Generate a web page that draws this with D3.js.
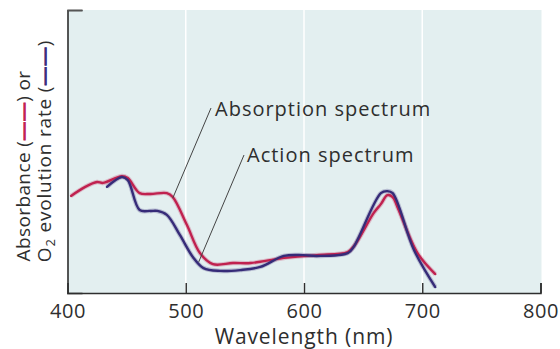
<!DOCTYPE html>
<html><head><meta charset="utf-8">
<script src="https://cdn.jsdelivr.net/npm/d3@7"></script>
<style>
html,body{margin:0;padding:0;background:#fff;}
svg{display:block;font-family:"Open Sans",sans-serif;}
</style></head>
<body>
<svg id="c" width="560" height="349"></svg>
<script>
// Data (wavelength nm, relative value 0-100)
const absorptionWl = [403, 415, 425, 430, 446, 451, 461, 470, 484, 489, 501, 512, 523, 540, 555, 583, 611, 637, 643, 659, 665, 670.5, 675, 679, 696, 711];
const absorptionVal = [34.3, 37.5, 39.2, 38.9, 41.3, 40.6, 35.3, 35.0, 35.3, 33.9, 24.0, 14.1, 10.2, 10.6, 10.6, 12.4, 13.4, 14.5, 17.0, 28.3, 31.4, 34.6, 33.9, 30.4, 14.1, 6.7];
const actionWl = [433.4, 446, 451, 461, 470, 476, 484, 495, 506, 515, 529, 546, 563, 583, 599, 611, 637, 642, 665, 670.5, 675, 693, 711];
const actionVal = [37.5, 41.0, 39.9, 29.3, 29.0, 29.0, 27.6, 20.5, 12.7, 8.8, 7.8, 8.1, 9.2, 13.1, 13.4, 13.1, 14.1, 16.3, 35.3, 36.0, 35.3, 15.2, 2.1];
const xTicks = [400, 500, 600, 700, 800];
const gridWl = [500, 600, 700];
const xTitle = "Wavelength (nm)";
const labelAbs = "Absorption spectrum";
const labelAct = "Action spectrum";

const svg = d3.select("#c");
const L = 67.5, R = 540.5, T = 10, B = 293;
const x = d3.scaleLinear().domain([400, 800]).range([L, R]);
const y = d3.scaleLinear().domain([0, 100]).range([B, T]);

const red = "#c0214f", blue = "#362b78", ink = "#2e2e2e";

svg.append("rect").attr("x", L).attr("y", T).attr("width", R - L + 1).attr("height", B - T).attr("fill", "#e3eff0");

svg.selectAll("line.grid").data(gridWl).enter().append("line")
  .attr("x1", d => x(d)).attr("x2", d => x(d)).attr("y1", T).attr("y2", B)
  .attr("stroke", "#fff").attr("stroke-width", 1.5);

// axes
const xAxis = d3.axisBottom(x).tickValues(xTicks).tickSize(-10).tickPadding(11).tickFormat(d3.format("d"));
const gx = svg.append("g").attr("transform", `translate(0,${B})`).call(xAxis);
gx.select(".domain").attr("stroke", ink).attr("stroke-width", 1.6);
gx.selectAll(".tick line").attr("stroke", ink).attr("stroke-width", 1.4);
gx.selectAll(".tick").filter(d => d === 400).select("line").remove();
gx.selectAll(".tick text").attr("font-size", 20).attr("letter-spacing", 0.6).attr("fill", ink).attr("font-family", "Open Sans");

const yAxis = d3.axisLeft(y).tickValues([100]).tickSize(-15).tickFormat("");
const gy = svg.append("g").attr("transform", `translate(${L},0)`).call(yAxis);
gy.select(".domain").attr("stroke", ink).attr("stroke-width", 1.6);
gy.selectAll(".tick line").attr("stroke", "#555").attr("stroke-width", 1.6);

// curves
const line = d3.line().x(d => x(d[0])).y(d => y(d[1])).curve(d3.curveCatmullRom.alpha(0.5));
const absData = d3.zip(absorptionWl, absorptionVal);
const actData = d3.zip(actionWl, actionVal);
[[absData, red], [actData, blue]].forEach(([d, c]) => {
  svg.append("path").datum(d).attr("d", line).attr("fill", "none")
    .attr("stroke", c).attr("stroke-opacity", 0.25).attr("stroke-width", 4.5).attr("stroke-linejoin", "round");
});
[[absData, red], [actData, blue]].forEach(([d, c]) => {
  svg.append("path").datum(d).attr("d", line).attr("fill", "none")
    .attr("stroke", c).attr("stroke-width", 2.4).attr("stroke-linejoin", "round").attr("stroke-linecap", "round");
});

// annotations
svg.append("line").attr("x1", 211).attr("y1", 108).attr("x2", x(489)).attr("y2", y(33.5)).attr("stroke", "#444").attr("stroke-width", 1);
svg.append("text").attr("x", 215).attr("y", 116).attr("font-size", 20).attr("letter-spacing", 1.0).attr("fill", ink).text(labelAbs);
svg.append("line").attr("x1", 244).attr("y1", 155).attr("x2", x(511)).attr("y2", y(11)).attr("stroke", "#444").attr("stroke-width", 1);
svg.append("text").attr("x", 247).attr("y", 162).attr("font-size", 20).attr("letter-spacing", 1.0).attr("fill", ink).text(labelAct);

// x title
svg.append("text").attr("x", 304).attr("y", 344).attr("text-anchor", "middle")
  .attr("font-size", 21).attr("letter-spacing", 0.9).attr("fill", ink).text(xTitle);

// y title (rotated)
const t1 = svg.append("text").attr("transform", "translate(30,166) rotate(-90)").attr("text-anchor", "middle")
  .attr("font-size", 19).attr("letter-spacing", 0.4).attr("fill", ink);
t1.append("tspan").text("Absorbance (");
t1.append("tspan").attr("fill", red).attr("stroke", red).attr("stroke-width", 1).text("——");
t1.append("tspan").text(") or");
const t2 = svg.append("text").attr("transform", "translate(51,151) rotate(-90)").attr("text-anchor", "middle")
  .attr("font-size", 19).attr("letter-spacing", 0.8).attr("fill", ink);
t2.append("tspan").text("O");
t2.append("tspan").attr("font-size", 13).attr("dy", 4).text("2");
t2.append("tspan").attr("dy", -4).text(" evolution rate (");
t2.append("tspan").attr("fill", blue).attr("stroke", blue).attr("stroke-width", 1).text("——");
t2.append("tspan").text(")");
</script>
</body></html>
